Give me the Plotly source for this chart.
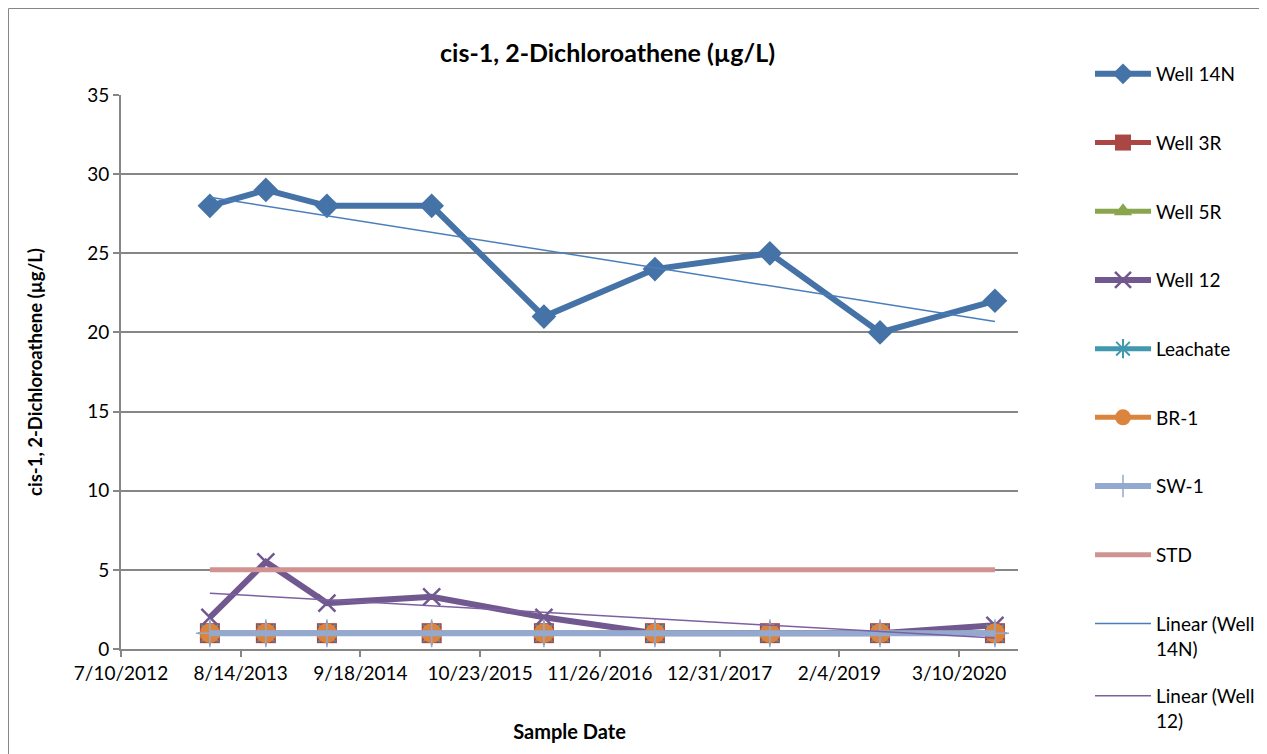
import numpy as np
import pandas as pd
import plotly.graph_objects as go

# ---------------- data ----------------
sample_dates = ["2013-05-03", "2013-11-06", "2014-05-29", "2015-05-14", "2016-05-23",
                "2017-05-29", "2018-06-17", "2019-06-20", "2020-07-08"]
well_14n = [28, 29, 28, 28, 21, 24, 25, 20, 22]
well_3r = [1, 1, 1, 1, 1, 1, 1, 1, 1]
well_5r = [1, 1, 1, 1, 1, 1, 1, 1, 1]
well_12 = [2.0, 5.5, 2.9, 3.3, 2.0, 1.0, 1.0, 1.0, 1.5]
leachate = [1, 1, 1, 1, 1, 1, 1, 1, 1]
br_1 = [1, 1, 1, 1, 1, 1, 1, 1, 1]
sw_1 = [1, 1, 1, 1, 1, 1, 1, 1, 1]
std = [5, 5, 5, 5, 5, 5, 5, 5, 5]

tick_dates = ["2012-07-10", "2013-08-14", "2014-09-18", "2015-10-23", "2016-11-26",
              "2017-12-31", "2019-02-04", "2020-03-10"]
tick_labels = ["7/10/2012", "8/14/2013", "9/18/2014", "10/23/2015", "11/26/2016",
               "12/31/2017", "2/4/2019", "3/10/2020"]
x_range = ["2012-07-10", "2020-09-23"]

title_text = "cis-1, 2-Dichloroathene (µg/L)"
FONT = "Lato"

# ---------------- linear trends ----------------
d = pd.to_datetime(sample_dates)
days = np.array((d - d[0]).days, dtype=float)


def trend(vals):
    b, a = np.polyfit(days, np.array(vals, dtype=float), 1)
    return [a + b * days[0], a + b * days[-1]]


trend_x = [sample_dates[0], sample_dates[-1]]

fig = go.Figure()


def add(name, y, color, symbol=None, msize=12, width=5, mline=None, legend="legend"):
    mode = "lines+markers" if symbol else "lines"
    marker = dict(symbol=symbol, size=msize, color=color)
    if mline:
        marker["line"] = dict(color=color, width=mline)
    fig.add_trace(go.Scatter(
        x=sample_dates, y=y, name=name, mode=mode,
        line=dict(color=color, width=width),
        marker=marker if symbol else None,
        legendgroup=name, legend=legend))


add("Well 14N", well_14n, "#4572A7", "diamond", 19, width=6)
add("Well 3R", well_3r, "#AA4643", "square", 20)
add("Well 5R", well_5r, "#89A54E", "triangle-up", 18)
add("Well 12", well_12, "#71588F", "x-thin", 17, width=6, mline=2.5)
add("Leachate", leachate, "#4198AF", "asterisk", 20, mline=2)
add("BR-1", br_1, "#DB843D", "circle", 20)
add("SW-1", sw_1, "#93A9CF", "cross-thin", 20, width=6, mline=1.5)
add("STD", std, "#D19392", None, width=5)

fig.add_trace(go.Scatter(x=trend_x, y=trend(well_14n), name="Linear (Well<br>14N)",
                         mode="lines", line=dict(color="#4A7EBB", width=1.5),
                         legendgroup="t1"))
fig.add_trace(go.Scatter(x=trend_x, y=trend(well_12), name="Linear (Well<br>12)",
                         mode="lines", line=dict(color="#7D60A0", width=1.5),
                         legendgroup="t2", legend="legend2"))

# page body has an 8px margin: work in page pixels, shifted into figure pixels
OFF = 8
W, H = 1267 - OFF, 754 - OFF
L, R, T, B = 121 - OFF, 1018 - OFF, 95 - OFF, 649 - OFF
pw, ph = R - L, B - T


def px_x(x):
    return (x - OFF - L) / pw


def px_y(y):
    return (B - (y - OFF)) / ph


border = dict(color="#868686", width=1)

fig.update_layout(
    width=W, height=H,
    margin=dict(l=L, r=W - R, t=T, b=H - B, pad=0, autoexpand=False),
    paper_bgcolor="white", plot_bgcolor="white",
    font=dict(family=FONT, size=19, color="#000000"),
    showlegend=True,
    legend=dict(x=px_x(1090), y=px_y(55), xanchor="left", yanchor="top",
                traceorder="grouped", tracegroupgap=41, itemwidth=56,
                valign="top", font=dict(size=19), bgcolor="rgba(0,0,0,0)",
                maxheight=740),
    legend2=dict(x=px_x(1090), y=px_y(677), xanchor="left", yanchor="top",
                 itemwidth=56, valign="top", font=dict(size=19),
                 bgcolor="rgba(0,0,0,0)"),
    xaxis=dict(type="date", range=x_range, tickvals=tick_dates, ticktext=tick_labels,
               showgrid=False, showline=True, linecolor="#868686", linewidth=2,
               ticks="outside", ticklen=6, tickcolor="#868686", tickwidth=2,
               tickfont=dict(size=19), zeroline=False, automargin=False,
               title=dict(text="<b>Sample Date</b>", font=dict(size=20), standoff=42)),
    yaxis=dict(range=[0, 35], dtick=5, showgrid=True, gridcolor="#868686", gridwidth=1.5,
               showline=True, linecolor="#868686", linewidth=2,
               ticks="outside", ticklen=6, tickcolor="#868686", tickwidth=2,
               tickfont=dict(size=19), zeroline=False, automargin=False,
               title=dict(text="<b>" + title_text + "</b>", font=dict(size=18.5), standoff=40)),
    shapes=[
        dict(type="line", xref="paper", yref="paper",
             x0=px_x(8.5), x1=px_x(8.5), y0=px_y(800), y1=px_y(8.5),
             line=border, layer="below"),
        dict(type="line", xref="paper", yref="paper",
             x0=px_x(8.5), x1=px_x(1300), y0=px_y(8.5), y1=px_y(8.5),
             line=border, layer="below"),
    ],
    annotations=[dict(text="<b>" + title_text + "</b>", xref="paper", yref="paper",
                      x=px_x(607), y=px_y(52), xanchor="center", yanchor="middle",
                      showarrow=False, font=dict(size=25))],
)

fig.write_html("out.html")
